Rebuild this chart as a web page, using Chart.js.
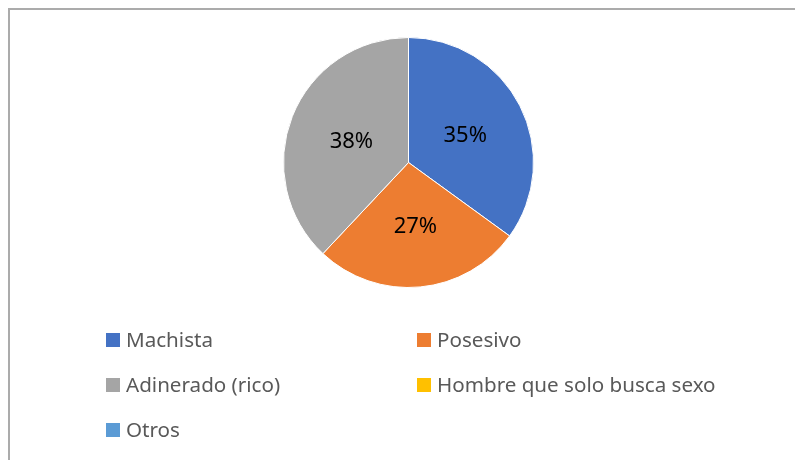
<!DOCTYPE html>
<html>
<head>
<meta charset="utf-8">
<script src="https://cdn.jsdelivr.net/npm/chart.js@4/dist/chart.umd.min.js"></script>
<style>
  html, body { margin: 0; padding: 0; background: #fff; }
  #wrap { position: relative; width: 795px; height: 460px; overflow: hidden; }
  #frame { position: absolute; left: 8px; top: 8px; width: 900px; height: 600px;
           border-left: 2px solid #ababab; border-top: 2px solid #ababab; box-sizing: border-box; }
  canvas { position: absolute; left: 0; top: 0; }
</style>
</head>
<body>
<div id="wrap">
  <div id="frame"></div>
  <canvas id="c" width="795" height="460"></canvas>
</div>
<script>
const categories = ["Machista", "Posesivo", "Adinerado (rico)", "Hombre que solo busca sexo", "Otros"];
const values = [35, 27, 38, 0, 0];
const colors = ["#4472C4", "#ED7D31", "#A5A5A5", "#FFC000", "#5B9BD5"];

const FONT = "'Noto Sans', 'Open Sans', 'Liberation Sans', sans-serif";

const sliceLabels = {
  id: 'sliceLabels',
  afterDatasetsDraw(chart) {
    const ctx = chart.ctx;
    const meta = chart.getDatasetMeta(0);
    const data = chart.data.datasets[0].data;
    const total = data.reduce((a, b) => a + b, 0);
    ctx.save();
    ctx.font = "22px " + FONT;
    ctx.fillStyle = "#000";
    ctx.textAlign = "center";
    ctx.textBaseline = "middle";
    meta.data.forEach((arc, i) => {
      if (!data[i]) return;
      const p = arc.tooltipPosition();
      ctx.fillText(Math.round(data[i] / total * 100) + "%", p.x + 1, p.y + 2);
    });
    ctx.restore();
  }
};

const gridLegend = {
  id: 'gridLegend',
  afterDraw(chart) {
    const ctx = chart.ctx;
    const colX = [106, 417];
    const rowY = [340, 385, 430];
    const labels = chart.data.labels;
    const bg = chart.data.datasets[0].backgroundColor;
    ctx.save();
    ctx.font = "20.6px " + FONT;
    ctx.textBaseline = "middle";
    ctx.textAlign = "left";
    labels.forEach((lab, i) => {
      const x = colX[i % 2];
      const y = rowY[Math.floor(i / 2)];
      ctx.fillStyle = bg[i];
      ctx.fillRect(x, y - 7, 14, 14);
      ctx.fillStyle = "#595959";
      ctx.fillText(lab, x + 20, y + 1);
    });
    ctx.restore();
  }
};

new Chart(document.getElementById('c'), {
  type: 'pie',
  data: {
    labels: categories,
    datasets: [{
      data: values,
      backgroundColor: colors,
      borderColor: "#ffffff",
      borderWidth: 1
    }]
  },
  options: {
    responsive: false,
    animation: false,
    rotation: 0,
    layout: { padding: { left: 283, right: 261, top: 37, bottom: 172 } },
    plugins: {
      legend: { display: false },
      tooltip: { enabled: false }
    }
  },
  plugins: [sliceLabels, gridLegend]
});
</script>
</body>
</html>
